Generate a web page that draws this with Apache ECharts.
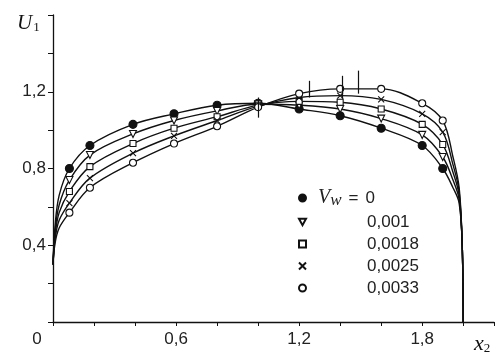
<!DOCTYPE html>
<html>
<head>
<meta charset="utf-8">
<script src="https://cdn.jsdelivr.net/npm/echarts@6/dist/echarts.min.js"></script>
<style>
  html, body { margin: 0; padding: 0; background: #fff; }
  #chart { width: 497px; height: 354px; }
</style>
</head>
<body>
<div id="chart"></div>
<script>
// measured points (x2 positions of the markers)
var xs = [0.08, 0.18, 0.39, 0.59, 0.8, 1.0, 1.2, 1.4, 1.6, 1.8, 1.9];
var u0 = [0.80, 0.92, 1.03, 1.085, 1.13, 1.14, 1.11, 1.075, 1.01, 0.92, 0.80];
var u1 = [0.74, 0.87, 0.98, 1.05, 1.10, 1.135, 1.13, 1.11, 1.06, 0.975, 0.86];
var u2 = [0.68, 0.81, 0.93, 1.01, 1.07, 1.13, 1.15, 1.145, 1.11, 1.03, 0.925];
var u3 = [0.62, 0.75, 0.88, 0.97, 1.05, 1.125, 1.17, 1.18, 1.16, 1.085, 0.99];
var u4 = [0.57, 0.70, 0.83, 0.93, 1.02, 1.12, 1.19, 1.215, 1.215, 1.14, 1.05];
var vwLabels = ['0', '0,001', '0,0018', '0,0025', '0,0033'];

// fitted curves near the two walls
var leadX = [0, 0.01, 0.03];
var lead0 = [0.30, 0.50, 0.66];
var lead1 = [0.30, 0.47, 0.61];
var lead2 = [0.30, 0.45, 0.57];
var lead3 = [0.30, 0.43, 0.53];
var lead4 = [0.30, 0.41, 0.49];
var tailX = [1.95, 1.98, 1.995, 2.0];
var tail0 = [0.70, 0.62, 0.40, 0];
var tail1 = [0.74, 0.64, 0.40, 0];
var tail2 = [0.78, 0.66, 0.40, 0];
var tail3 = [0.82, 0.68, 0.40, 0];
var tail4 = [0.86, 0.70, 0.40, 0];

// short vertical strokes over the curves: [x, from, to]
var bars = [[1.0, 1.065, 1.17], [1.25, 1.17, 1.257], [1.41, 1.164, 1.283], [1.49, 1.19, 1.31]];

var us = [u0, u1, u2, u3, u4];
var leads = [lead0, lead1, lead2, lead3, lead4];
var tails = [tail0, tail1, tail2, tail3, tail4];

var symbols = ['circle', 'path://M0,0L10,0L5,9Z', 'rect', 'path://M0,0L10,10M10,0L0,10', 'circle'];
var fills = ['#111', '#fff', '#fff', '#fff', '#fff'];
var sizes = [8, 7, 6, 6, 7];

function pairs(xa, ya) {
  var out = [];
  for (var i = 0; i < xa.length; i++) out.push([xa[i], ya[i]]);
  return out;
}

var series = [];
for (var k = 0; k < 5; k++) {
  var line = {
    type: 'line',
    data: pairs(leadX, leads[k]).concat(pairs(xs, us[k]), pairs(tailX, tails[k])),
    smooth: 0.35,
    symbol: 'none',
    lineStyle: { color: '#111', width: 1.4 },
    z: 2,
    silent: true
  };
  if (k === 0) {
    line.markLine = {
      silent: true,
      symbol: ['none', 'none'],
      label: { show: false },
      lineStyle: { color: '#111', width: 1.2, type: 'solid' },
      data: bars.map(function (b) { return [{ coord: [b[0], b[1]] }, { coord: [b[0], b[2]] }]; })
    };
  }
  series.push(line);
}
for (var j = 0; j < 5; j++) {
  series.push({
    name: vwLabels[j],
    type: 'scatter',
    data: pairs(xs, us[j]),
    symbol: symbols[j],
    symbolSize: sizes[j],
    itemStyle: { color: fills[j], borderColor: '#111', borderWidth: 1.1, opacity: 1 },
    z: 3
  });
}

var tickFont = { fontSize: 17, color: '#222', fontFamily: 'Liberation Sans' };

var option = {
  animation: false,
  backgroundColor: '#fff',
  grid: { left: 53, right: 0, top: 15, bottom: 32 },
  xAxis: {
    type: 'value',
    min: 0,
    max: 2.15,
    interval: 0.2,
    splitLine: { show: false },
    axisLine: { lineStyle: { color: '#111', width: 1.3 } },
    axisTick: { length: 4, lineStyle: { color: '#111' } },
    axisLabel: Object.assign({
      margin: 9,
      formatter: function (v) {
        if (Math.abs(v) < 1e-6) return '{z|0}';
        var keep = [0.6, 1.2, 1.8];
        for (var i = 0; i < keep.length; i++) {
          if (Math.abs(v - keep[i]) < 1e-6) return v.toFixed(1).replace('.', ',');
        }
        return '';
      },
      rich: { z: { fontSize: 17, color: '#222', fontFamily: 'Liberation Sans', padding: [0, 32, 0, 0] } }
    }, tickFont)
  },
  yAxis: {
    type: 'value',
    min: 0,
    max: 1.6,
    interval: 0.2,
    splitLine: { show: false },
    axisLine: { lineStyle: { color: '#111', width: 1.3 } },
    axisTick: { length: 5, lineStyle: { color: '#111' } },
    axisLabel: Object.assign({
      margin: 7,
      formatter: function (v) {
        var keep = [0.4, 0.8, 1.2];
        for (var i = 0; i < keep.length; i++) {
          if (Math.abs(v - keep[i]) < 1e-6) return v.toFixed(1).replace('.', ',');
        }
        return '';
      }
    }, tickFont)
  },
  legend: {
    data: vwLabels,
    orient: 'vertical',
    left: 293,
    top: 183,
    itemWidth: 7,
    itemHeight: 7,
    itemGap: 4,
    selectedMode: false,
    textStyle: {
      fontSize: 17, color: '#222', fontFamily: 'Liberation Sans', lineHeight: 18,
      rich: {
        v: { fontSize: 20, fontFamily: 'Liberation Serif', fontStyle: 'italic', color: '#222', padding: [0, 0, 0, 7] },
        w: { fontSize: 17, fontFamily: 'Liberation Serif', fontStyle: 'italic', color: '#222', padding: [5, 0, 0, 0] },
        e: { fontSize: 17, fontFamily: 'Liberation Sans', color: '#222', width: 24, align: 'center' },
        p: { width: 56 },
        n: { fontSize: 17, fontFamily: 'Liberation Sans', color: '#222' }
      }
    },
    formatter: function (name) {
      if (name === vwLabels[0]) return '{v|V}{w|w}{e|=}{n|' + name + '}';
      return '{p|}{n|' + name + '}';
    }
  },
  graphic: [
    {
      type: 'text', left: 17, top: 13,
      style: {
        text: '{a|U}{b|1}', fill: '#111',
        rich: {
          a: { fontSize: 21, fontStyle: 'italic', fontFamily: 'Liberation Serif' },
          b: { fontSize: 13, fontFamily: 'Liberation Serif', padding: [9, 0, 0, 1] }
        }
      }
    },
    {
      type: 'text', left: 474, top: 333,
      style: {
        text: '{a|x}{b|2}', fill: '#111',
        rich: {
          a: { fontSize: 22, fontStyle: 'italic', fontFamily: 'Liberation Serif' },
          b: { fontSize: 13, fontFamily: 'Liberation Serif', padding: [10, 0, 0, 0] }
        }
      }
    }
  ],
  series: series
};

var myChart = echarts.init(document.getElementById('chart'));
myChart.setOption(option, true);
</script>
</body>
</html>
